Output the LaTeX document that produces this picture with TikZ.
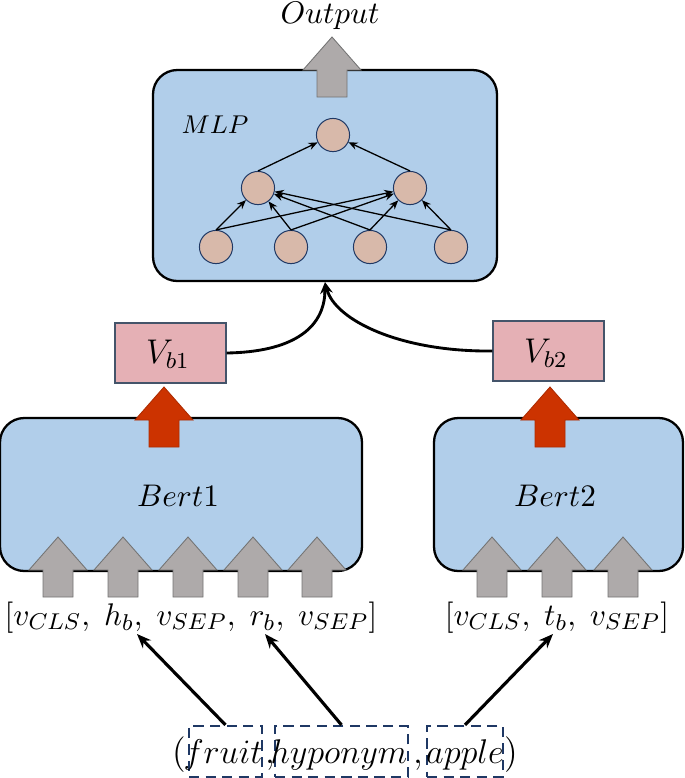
\documentclass[tikz,border=0pt]{standalone}
\usetikzlibrary{arrows.meta,fit,positioning}

\definecolor{boxblue}{RGB}{177,206,234}
\definecolor{neuron}{RGB}{216,185,170}
\definecolor{navy}{RGB}{31,56,100}
\definecolor{vecpink}{RGB}{229,176,181}
\definecolor{vecedge}{RGB}{68,84,106}
\definecolor{arrred}{RGB}{204,51,0}
\definecolor{arrgray}{RGB}{174,170,170}

\tikzset{
    bigbox/.style={draw=black, line width=0.8pt, fill=boxblue, rounded corners=8.5pt, inner sep=0pt},
    unit/.style={circle, draw=navy, line width=0.35pt, fill=neuron, minimum size=11.6pt, inner sep=0pt},
    vecbox/.style={draw=vecedge, line width=0.45pt, fill=vecpink, inner sep=0pt},
    wordbox/.style={draw=navy, line width=0.75pt, dash pattern=on 3.6pt off 2.2pt, inner sep=0pt},
    lab/.style={anchor=base, inner sep=0pt},
    edge/.style={line width=0.45pt, -{Stealth[length=3.2pt,width=2.6pt]}},
    feed/.style={line width=1pt, -{Stealth[length=4.2pt,width=3.4pt]}},
    pick/.style={line width=1.1pt, -{Stealth[length=5pt,width=4pt]}},
    pics/upshape/.style={code={
        \draw[pic actions] (0,0) -- (29,33) -- (15,33) -- (15,60)
            -- (-15,60) -- (-15,33) -- (-29,33) -- cycle;}},
}

\begin{document}
\begin{tikzpicture}[x=0.35pt, y=-0.35pt]

    \useasboundingbox (0,0) rectangle (685,778);

    % top block
    \node[bigbox, fit={(153,70) (497,281)}] (mlp) {};
    \pic[fill=arrgray, draw=black!55, line width=0.3pt] at (332,37) {upshape};
    \node[lab] (out) at (330,23) {\fontsize{10.5}{12}\selectfont $Output$};
    \node[lab] (mlplab) at (215,133) {\fontsize{9.5}{11}\selectfont $MLP$};

    % neurons
    \node[unit] (n0) at (333,135) {};
    \node[unit] (h1) at (258,188) {};
    \node[unit] (h2) at (410,188) {};
    \foreach \x [count=\i] in {216,291,370,451}
        \node[unit] (b\i) at (\x,247) {};

    \foreach \i in {1,2,3,4} {
        \draw[edge] (b\i.north) -- (h1);
        \draw[edge] (b\i.north) -- (h2);
    }
    \draw[edge] (h1.north) -- (n0);
    \draw[edge] (h2.north) -- (n0);

    % encoders
    \node[bigbox, fit={(0,418) (362,571)}] (bert1) {};
    \node[bigbox, fit={(434,418) (683,571)}] (bert2) {};
    \node[lab] (bertlab1) at (178,506) {\fontsize{11}{13}\selectfont $Bert1$};
    \node[lab] (bertlab2) at (555,506) {\fontsize{11}{13}\selectfont $Bert2$};

    \foreach \x in {58,123,188,253,317}
        \pic[fill=arrgray, draw=black!55, line width=0.3pt] at (\x,537) {upshape};
    \foreach \x in {492,557,623}
        \pic[fill=arrgray, draw=black!55, line width=0.3pt] at (\x,537) {upshape};

    \pic[fill=arrred, draw=arrred!85!black, line width=0.3pt] at (164,387) {upshape};
    \pic[fill=arrred, draw=arrred!85!black, line width=0.3pt] at (550,387) {upshape};

    % pooled vectors
    \node[vecbox, fit={(115,323) (226,383)}] (vb1) {};
    \node[vecbox, fit={(493,321) (604,381)}] (vb2) {};
    \node[lab] (vblab1) at (168,363) {\fontsize{12}{14}\selectfont $V_{b1}$};
    \node[lab] (vblab2) at (546,362) {\fontsize{12}{14}\selectfont $V_{b2}$};
    \coordinate (join) at (mlp.south);

    \draw[feed] (vb1.east) .. controls (290,352) and (325,330) .. (join);
    \draw[feed] (vb2.west) .. controls (400,352) and (335,320) .. (join);

    % inputs
    \node[lab] (toks1) at (191,625) {\fontsize{11}{13}\selectfont $[v_{CLS},\; h_b,\; v_{SEP},\; r_b,\; v_{SEP}]$};
    \node[lab] (toks2) at (557,625) {\fontsize{11}{13}\selectfont $[v_{CLS},\; t_b,\; v_{SEP}]$};
    \coordinate (hb) at (137,634);
    \coordinate (rb) at (265,634);
    \coordinate (tb) at (553,634);

    % triple
    \node[wordbox, fit={(189,726) (262,777)}] (fruitbox) {};
    \node[wordbox, fit={(275,726) (408,777)}] (hypobox) {};
    \node[wordbox, fit={(427,726) (503,777)}] (applebox) {};
    \node[lab] (fruit) at (223,763) {\fontsize{12.5}{15}\selectfont $fruit$};
    \node[lab] (hypo) at (339,763) {\fontsize{12.5}{15}\selectfont $hyponym$};
    \node[lab] (apple) at (465,763) {\fontsize{12.5}{15}\selectfont $apple$};
    \node[lab] (lpar) at (179,763) {\fontsize{12.5}{15}\selectfont (};
    \node[lab] (comma1) at (270,763) {\fontsize{12.5}{15}\selectfont ,};
    \node[lab] (comma2) at (418,763) {\fontsize{12.5}{15}\selectfont ,};
    \node[lab] (rpar) at (511,763) {\fontsize{12.5}{15}\selectfont )};

    \draw[pick] (fruitbox.north) -- (hb);
    \draw[pick] (hypobox.north) -- (rb);
    \draw[pick] (applebox.north) -- (tb);

\end{tikzpicture}
\end{document}
